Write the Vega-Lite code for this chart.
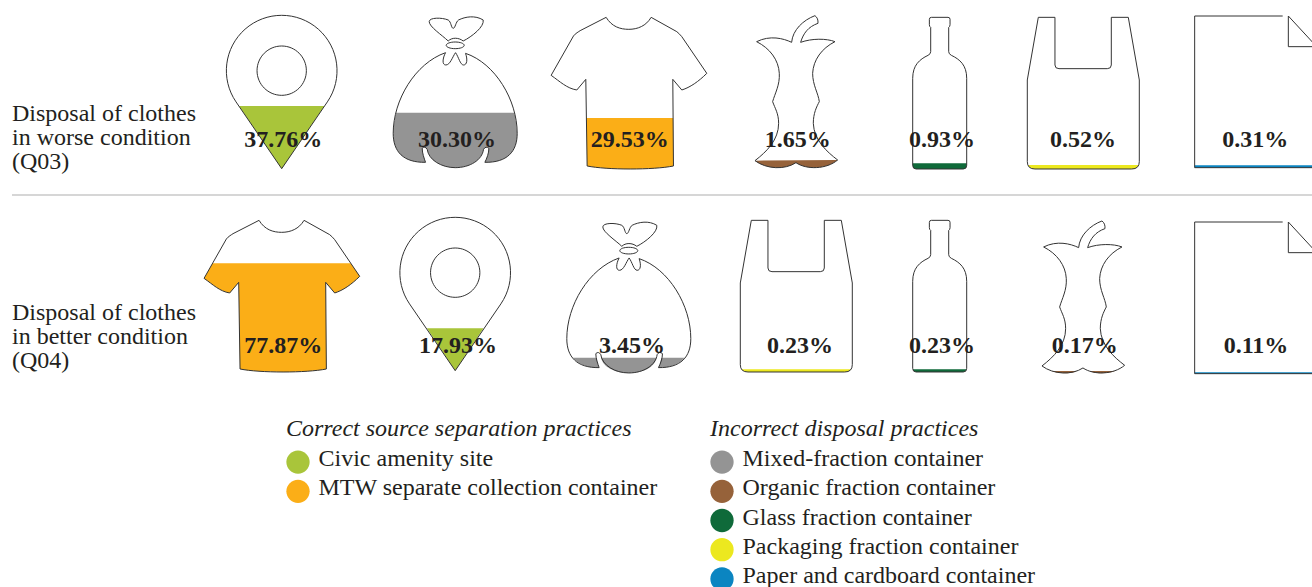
{
"$schema":"https://vega.github.io/schema/vega-lite/v6.json",
"width":1312,"height":587,"autosize":{"type":"none"},"padding":0,"background":"white",
"config":{"view":{"stroke":null},"font":"Liberation Serif","text":{"font":"Liberation Serif"}},
"data":{"values":[
{"question":"Q03","slot":1,"container":"pin","id":"Q03-pin","group":"correct","destination":"Civic amenity site","share":0.3776},
{"question":"Q03","slot":2,"container":"bag","id":"Q03-bag","group":"incorrect","destination":"Mixed-fraction container","share":0.3030},
{"question":"Q03","slot":3,"container":"shirt","id":"Q03-shirt","group":"correct","destination":"MTW separate collection container","share":0.2953},
{"question":"Q03","slot":4,"container":"apple","id":"Q03-apple","group":"incorrect","destination":"Organic fraction container","share":0.0165},
{"question":"Q03","slot":5,"container":"bottle","id":"Q03-bottle","group":"incorrect","destination":"Glass fraction container","share":0.0093},
{"question":"Q03","slot":6,"container":"carrier","id":"Q03-carrier","group":"incorrect","destination":"Packaging fraction container","share":0.0052},
{"question":"Q03","slot":7,"container":"paper","id":"Q03-paper","group":"incorrect","destination":"Paper and cardboard container","share":0.0031},
{"question":"Q04","slot":8,"container":"shirt","id":"Q04-shirt","group":"correct","destination":"MTW separate collection container","share":0.7787},
{"question":"Q04","slot":9,"container":"pin","id":"Q04-pin","group":"correct","destination":"Civic amenity site","share":0.1793},
{"question":"Q04","slot":10,"container":"bag","id":"Q04-bag","group":"incorrect","destination":"Mixed-fraction container","share":0.0345},
{"question":"Q04","slot":11,"container":"carrier","id":"Q04-carrier","group":"incorrect","destination":"Packaging fraction container","share":0.0023},
{"question":"Q04","slot":12,"container":"bottle","id":"Q04-bottle","group":"incorrect","destination":"Glass fraction container","share":0.0023},
{"question":"Q04","slot":13,"container":"apple","id":"Q04-apple","group":"incorrect","destination":"Organic fraction container","share":0.0017},
{"question":"Q04","slot":14,"container":"paper","id":"Q04-paper","group":"incorrect","destination":"Paper and cardboard container","share":0.0011}
]},
"resolve":{"scale":{"x":"independent","y":"independent","color":"independent","shape":"independent"}},
"layer":[
{"transform":[{"filter":{"field":"group","equal":"correct"}}],
 "mark":{"type":"point","filled":true,"size":0.4444,"opacity":1,"strokeWidth":0},
 "encoding":{
  "x":{"field":"slot","type":"quantitative","axis":null,"scale":{"domain":[1,2,3,4,5,6,7,8,9,10,11,12,13,14],"range":[281.7,455.2,628.8,796.3,939.7,1083.3,1255,281.7,455.2,628.8,796.3,939.7,1083.3,1255],"nice":false,"zero":false}},
  "y":{"field":"slot","type":"quantitative","axis":null,"scale":{"domain":[1,7,8,9,10,11,12,13,14],"range":[10,10,213,212,215.3,213,213,215.3,216],"nice":false,"zero":false}},
  "shape":{"field":"id","type":"nominal","legend":null,"scale":{"domain":["Q03-pin","Q03-shirt","Q04-shirt","Q04-pin"],"range":[
   "M-128,288 L128,288 L0,476 Z",
   "M-127,324 L133,324 L134,468 C74,480 -66,480 -125,468 Z",
   "M-207,151 L207,151 L234,190 C209,215 184,232 159,240 L132,208 L134,468 C74,480 -66,480 -125,468 L-129,208 L-156,240 C-186,235 -206,215 -233,196 Z",
   "M-85,349 L85,349 L0,476 Z"]}},
  "color":{"field":"destination","type":"nominal","scale":{"domain":["Civic amenity site","MTW separate collection container"],"range":["#a9c53a","#fbae17"]},
   "legend":{"title":"Correct source separation practices","orient":"none","legendX":286,"legendY":417,"symbolType":"M1,0.25 A1,1 0 1 0 -1,0.25 A1,1 0 1 0 1,0.25 Z","symbolSize":543,"symbolStrokeWidth":0,"labelFont":"Liberation Serif","labelFontSize":24,"labelColor":"#231f20","labelLimit":500,"labelOffset":8.5,"rowPadding":2.2,"titleFont":"Liberation Serif","titleFontSize":24,"titleFontStyle":"italic","titleFontWeight":"normal","titleColor":"#231f20","titleLimit":500,"titlePadding":6.2}}
 }},
{"transform":[{"filter":{"field":"group","equal":"incorrect"}}],
 "mark":{"type":"point","filled":true,"size":0.4444,"opacity":1,"strokeWidth":0},
 "encoding":{
  "x":{"field":"slot","type":"quantitative","axis":null,"scale":{"domain":[1,2,3,4,5,6,7,8,9,10,11,12,13,14],"range":[281.7,455.2,628.8,796.3,939.7,1083.3,1255,281.7,455.2,628.8,796.3,939.7,1083.3,1255],"nice":false,"zero":false}},
  "y":{"field":"slot","type":"quantitative","axis":null,"scale":{"domain":[1,7,8,9,10,11,12,13,14],"range":[10,10,213,212,215.3,213,213,215.3,216],"nice":false,"zero":false}},
  "shape":{"field":"id","type":"nominal","legend":null,"scale":{"domain":["Q03-bag","Q03-apple","Q03-bottle","Q03-carrier","Q03-paper","Q04-bag","Q04-carrier","Q04-bottle","Q04-apple","Q04-paper"],"range":[
   "M-178,308 L178,308 Q184,340 186,370 C186,425 156,458 89,457 C95,445 101,430 101,415 Q92,407 85,418 C81,450 44,473 0,473 C-41,473 -80,450 -84,418 Q-91,407 -99,415 C-99,430 -93,445 -89,457 C-156,458 -186,425 -186,370 Q-184,340 -178,308 Z",
   "M-124,452 L124,450 C91,478 31,480 -1,458 C-34,480 -89,478 -124,452 Z",
   "M-81,460 L81,460 L81,466 Q81,477 71,477 L-71,477 Q-81,477 -81,466 Z",
   "M-166,465 L166,465 Q160,477 145,477 L-145,477 Q-160,477 -166,465 Z",
   "M-181,466 L190,466 L190,473 L-181,473 Z",
   "M-168,427 L-96,427 C-95,440 -92,450 -89,457 C-120,458 -150,448 -168,427 Z M-83,427 L84,427 C78,455 44,473 0,473 C-41,473 -78,455 -83,427 Z M168,427 L98,427 C95,440 92,450 89,457 C120,458 150,448 168,427 Z",
   "M-164,469 L164,469 Q158,477 145,477 L-145,477 Q-158,477 -164,469 Z",
   "M-81,469 L81,469 Q78,477 71,477 L-71,477 Q-78,477 -81,469 Z",
   "M-95,467 L-20,467 C-30,476 -75,476 -95,467 Z M20,467 L95,467 C75,476 30,476 20,467 Z",
   "M-181,469 L190,469 L190,473 L-181,473 Z"]}},
  "color":{"field":"destination","type":"nominal","scale":{"domain":["Mixed-fraction container","Organic fraction container","Glass fraction container","Packaging fraction container","Paper and cardboard container"],"range":["#949494","#96623a","#0f6a3a","#ece81f","#0b85c1"]},
   "legend":{"title":"Incorrect disposal practices","orient":"none","legendX":710,"legendY":417,"symbolType":"M1,0.25 A1,1 0 1 0 -1,0.25 A1,1 0 1 0 1,0.25 Z","symbolSize":543,"symbolStrokeWidth":0,"labelFont":"Liberation Serif","labelFontSize":24,"labelColor":"#231f20","labelLimit":500,"labelOffset":8.5,"rowPadding":2.2,"titleFont":"Liberation Serif","titleFontSize":24,"titleFontStyle":"italic","titleFontWeight":"normal","titleColor":"#231f20","titleLimit":500,"titlePadding":6.2}}
 }},
{"mark":{"type":"point","filled":false,"size":0.4444,"opacity":1,"stroke":"#333333","strokeWidth":1},
 "encoding":{
  "x":{"field":"slot","type":"quantitative","axis":null,"scale":{"domain":[1,2,3,4,5,6,7,8,9,10,11,12,13,14],"range":[281.7,455.2,628.8,796.3,939.7,1083.3,1255,281.7,455.2,628.8,796.3,939.7,1083.3,1255],"nice":false,"zero":false}},
  "y":{"field":"slot","type":"quantitative","axis":null,"scale":{"domain":[1,7,8,9,10,11,12,13,14],"range":[10,10,213,212,215.3,213,213,215.3,216],"nice":false,"zero":false}},
  "shape":{"field":"container","type":"nominal","legend":null,"scale":{"domain":["pin","bag","shirt","apple","bottle","carrier","paper"],"range":[
   "M0,476 L137,275.7 A166,166 0 1 0 -137,275.7 Z M74,182 A74,74 0 1 0 -74,182 A74,74 0 1 0 74,182 Z",
   "M-29,128 C-120,160 -186,270 -186,370 C-186,425 -156,458 -89,457 C-93,445 -99,430 -99,415 Q-91,407 -84,418 C-80,450 -41,473 0,473 C44,473 81,450 85,418 Q92,407 101,415 C101,430 95,445 89,457 C156,458 186,425 186,370 C186,270 120,160 31,130 C38,150 35,165 25,165 C15,165 10,140 1,128 C-8,140 -15,165 -28,165 C-40,165 -38,145 -29,128 Z M-21,93 C-40,75 -78,50 -78,35 C-78,22 -40,22 -21,30 C-12,35 -12,55 -6,55 C0,55 2,35 10,30 C30,20 60,15 84,30 C88,50 50,80 24,93 C10,82 -10,82 -21,93 Z M-27,106 A27,10 0 1 0 27,106 A27,10 0 1 0 -27,106 Z",
   "M-68,22 C-51,50 -26,58 0,58 C26,58 52,48 67,22 L144,65 C150,70 155,75 159,80 L234,190 C209,215 184,232 159,240 L132,208 L134,468 C74,480 -66,480 -125,468 L-129,208 L-156,240 C-186,235 -206,215 -233,196 L-166,78 C-160,70 -150,65 -146,62 Z",
   "M-119,95 C-79,75 -39,85 -14,97 C-11,60 21,30 56,17 C63,22 66,30 65,40 C36,50 21,70 13,97 C46,85 91,85 116,95 C76,115 51,150 49,190 C49,225 66,250 69,275 C61,290 51,310 51,340 C53,390 91,425 124,450 C91,478 31,480 -1,458 C-34,480 -89,478 -124,452 C-89,425 -53,390 -53,340 C-53,310 -64,295 -71,275 C-64,250 -49,225 -51,190 C-53,150 -79,115 -119,95 Z",
   "M-25,22 L25,22 Q31,22 31,28 L31,44 Q31,50 27,52 L27,125 Q27,132 35,136 C60,148 81,165 81,205 L81,466 Q81,477 71,477 L-71,477 Q-81,477 -81,466 L-81,205 C-81,165 -60,148 -35,136 Q-27,132 -27,125 L-27,52 Q-31,50 -31,44 L-31,28 Q-31,22 -25,22 Z",
   "M-135,22 L-85,22 L-85,165 Q-85,176 -73,176 L72,176 Q84,176 84,165 L84,22 L135,22 L168,210 L168,455 Q168,477 145,477 L-145,477 Q-168,477 -168,455 L-168,210 Z",
   "M83,18 L-181,18 L-181,473 L185,473 M100,18 L100,110 L185,110 Z"]}}
 }},
{"mark":{"type":"text","font":"Liberation Serif","fontSize":24,"fontWeight":"bold","color":"#231f20","baseline":"alphabetic","align":"center"},
 "encoding":{
  "x":{"field":"slot","type":"quantitative","axis":null,"scale":{"domain":[1,2,3,4,5,6,7,8,9,10,11,12,13,14],"range":[283.3,457,629.7,797.7,942,1083,1255.3,283.3,458,632,800,942,1084.7,1256],"nice":false,"zero":false}},
  "y":{"field":"question","type":"nominal","axis":null,"scale":{"type":"point","padding":0,"domain":["Q03","Q04"],"range":[147.3,352.7]}},
  "text":{"field":"share","type":"quantitative","format":".2%"}
 }},
{"data":{"values":[{"question":"Q03","label":"Disposal of clothes\nin worse condition\n(Q03)"},{"question":"Q04","label":"Disposal of clothes\nin better condition\n(Q04)"}]},
 "mark":{"type":"text","font":"Liberation Serif","fontSize":24,"color":"#231f20","baseline":"alphabetic","align":"left","lineBreak":"\n","lineHeight":24},
 "encoding":{
  "x":{"datum":0,"type":"quantitative","axis":null,"scale":{"domain":[0,1],"range":[12,13]}},
  "y":{"field":"question","type":"nominal","axis":null,"scale":{"type":"point","padding":0,"domain":["Q03","Q04"],"range":[121,320]}},
  "text":{"field":"label","type":"nominal"}
 }},
{"data":{"values":[{"from":0,"to":1,"level":0}]},
 "mark":{"type":"rule","color":"#c8c8c8","strokeWidth":1.5},
 "encoding":{
  "x":{"field":"from","type":"quantitative","axis":null,"scale":{"domain":[0,1],"range":[12,1312]}},
  "x2":{"field":"to"},
  "y":{"field":"level","type":"quantitative","axis":null,"scale":{"domain":[0,1],"range":[195,196]}}
 }}
]
}
